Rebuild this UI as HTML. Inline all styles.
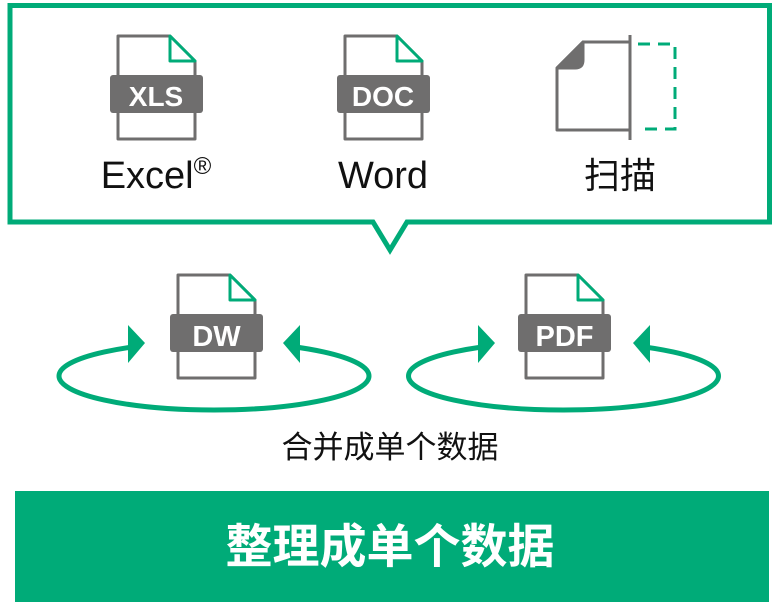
<!DOCTYPE html>
<html><head><meta charset="utf-8"><style>
html,body{margin:0;padding:0;background:#fff;}
svg{display:block}
</style></head><body>
<svg width="779" height="607" viewBox="0 0 779 607" xmlns="http://www.w3.org/2000/svg">
<defs>
<g id="doc">
<path d="M0,0 H52 L77,25 V103 H0 Z" fill="#fff" stroke="#6f6e6e" stroke-width="3" stroke-linejoin="round"/>
<path d="M52,0 L77,25 H52 Z" fill="#fff" stroke="#00ab78" stroke-width="3" stroke-linejoin="round"/>
<rect x="-8" y="39" width="93" height="38" rx="3" fill="#6f6e6e"/>
</g>
</defs>
<path d="M10,5.5 H769.5 V222 H407 L390,250 L373,222 H10 Z" fill="#fff" stroke="#00ab78" stroke-width="5"/>
<use href="#doc" x="118" y="36"/>
<text x="156" y="106" text-anchor="middle" font-family="Liberation Sans, sans-serif" font-weight="bold" font-size="28" fill="#fff">XLS</text>
<use href="#doc" x="345" y="36"/>
<text x="383" y="106" text-anchor="middle" font-family="Liberation Sans, sans-serif" font-weight="bold" font-size="28" fill="#fff">DOC</text>
<path d="M583,42 H630 V130 H557 V68 Z" fill="#fff" stroke="#6f6e6e" stroke-width="3" stroke-linejoin="round"/>
<path d="M557,68 L583,42 V60 Q583,68 575,68 Z" fill="#6f6e6e" stroke="#6f6e6e" stroke-width="3" stroke-linejoin="round"/>
<line x1="630" y1="35" x2="630" y2="140" stroke="#6f6e6e" stroke-width="3"/>
<path d="M638,44 H675 V129 H638" fill="none" stroke="#00ab78" stroke-width="3" stroke-dasharray="12,8"/>
<g font-family="Liberation Sans, 'Noto Sans CJK SC', sans-serif" font-size="38" fill="#111" text-anchor="middle">
<text x="156" y="188">Excel<tspan font-size="24" dy="-14">®</tspan></text>
<text x="383" y="188">Word</text>
<text x="620" y="188" font-size="36">扫描</text>
</g>
<ellipse cx="214" cy="376" rx="155" ry="34" fill="none" stroke="#00ab78" stroke-width="5"/>
<ellipse cx="563.5" cy="376" rx="155" ry="34" fill="none" stroke="#00ab78" stroke-width="5"/>
<rect x="140" y="320" width="149" height="48" fill="#fff"/>
<rect x="489" y="320" width="149" height="48" fill="#fff"/>
<path d="M128,325 L145,343 L128,363 Z M300,325 L283,343 L300,363 Z" fill="#00ab78"/>
<path d="M478,325 L495,343 L478,363 Z M650,325 L633,343 L650,363 Z" fill="#00ab78"/>
<use href="#doc" x="178" y="275"/>
<text x="216.5" y="346" text-anchor="middle" font-family="Liberation Sans, sans-serif" font-weight="bold" font-size="29" fill="#fff">DW</text>
<use href="#doc" x="526" y="275"/>
<text x="564.5" y="346" text-anchor="middle" font-family="Liberation Sans, sans-serif" font-weight="bold" font-size="29" fill="#fff">PDF</text>
<text x="390" y="458" text-anchor="middle" font-family="Liberation Sans, 'Noto Sans CJK SC', sans-serif" font-size="31" fill="#111">合并成单个数据</text>
<rect x="15" y="491" width="754" height="111" fill="#00ab78"/>
<text x="390" y="563" text-anchor="middle" font-family="Liberation Sans, 'Noto Sans CJK SC', sans-serif" font-weight="bold" font-size="47" fill="#fff">整理成单个数据</text>
</svg>
</body></html>
